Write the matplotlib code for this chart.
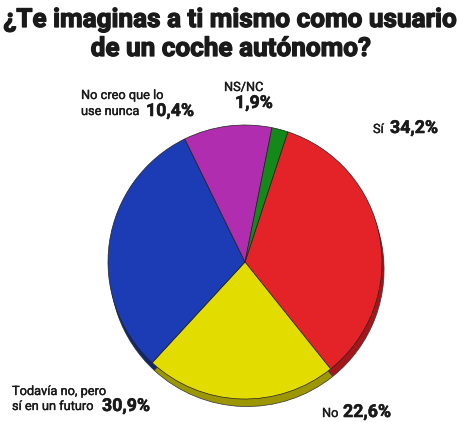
import matplotlib
matplotlib.use('Agg')
import matplotlib.pyplot as plt
import matplotlib.patheffects as pe

W, H = 468, 422

labels = ['Sí', 'No', 'Todavía no, pero sí en un futuro', 'No creo que lo use nunca', 'NS/NC']
values = [34.2, 22.6, 30.9, 10.4, 1.9]
pct_text = ['34,2%', '22,6%', '30,9%', '10,4%', '1,9%']
colors = ['#e42329', '#e3dc00', '#1b3cb4', '#b02db0', '#14891a']
shades = ['#a5161b', '#9c9600', '#10286f', '#761d76', '#0b5a0f']
title = ['¿Te imaginas a ti mismo como usuario', 'de un coche autónomo?']

plt.rcParams['font.family'] = ['Roboto', 'DejaVu Sans']

fig = plt.figure(figsize=(W / 100, H / 100), dpi=100)

def px(x, y):
    # pixel coords (from top-left) to figure fraction
    return x / W, 1 - y / H

# pie axes: centre at (245, 262) px, radius ~137 px
cx, cy, r = 245, 262, 137
half = 150
ax = fig.add_axes([(cx - half) / W, (H - cy - half) / H, 2 * half / W, 2 * half / H])
lim = half / r
ax.set_aspect('equal')
ax.axis('off')

start = 90 - 18.2
# shadow / side of the pie
ax.pie(values, colors=shades, startangle=start, counterclock=False, radius=1,
       center=(0.015, -0.055), wedgeprops=dict(edgecolor='#333333', linewidth=0.5))
ax.pie(values, colors=colors, startangle=start, counterclock=False, radius=1,
       center=(0, 0), wedgeprops=dict(edgecolor='#222222', linewidth=0.5))
ax.set_xlim(-lim, lim)
ax.set_ylim(-lim, lim)

tc = '#1a1a1a'
thick = [pe.withStroke(linewidth=0.9, foreground=tc)]
semi = [pe.withStroke(linewidth=0.4, foreground=tc)]

# title
fig.text(*px(230, 27), title[0], ha='center', va='baseline', fontsize=18.8,
         fontweight='bold', color=tc, path_effects=thick)
fig.text(*px(231, 56), title[1], ha='center', va='baseline', fontsize=18.8,
         fontweight='bold', color=tc, path_effects=thick)

small = 9.2
big = 12.8

def lab(x, y, s, bold=False):
    if bold:
        fig.text(*px(x, y), s, fontsize=big, fontweight='bold', color=tc,
                 va='baseline', path_effects=semi)
    else:
        fig.text(*px(x, y), s, fontsize=small, color=tc, va='baseline',
                 path_effects=[pe.withStroke(linewidth=0.25, foreground=tc)])

# No creo que lo use nunca
lab(81, 99, 'No creo que lo')
lab(81, 115, 'use nunca')
lab(146, 116, pct_text[3], bold=True)

# NS/NC
lab(224, 91, 'NS/NC')
lab(235, 108, pct_text[4], bold=True)

# Sí
lab(373, 133, labels[0])
lab(390, 133, pct_text[0], bold=True)

# Todavía no
lab(12, 395, 'Todavía no, pero')
lab(12, 410, 'sí en un futuro')
lab(102, 411, pct_text[2], bold=True)

# No
lab(322, 417, labels[1])
lab(343, 417, pct_text[1], bold=True)

fig.savefig('out.png', dpi=100)
